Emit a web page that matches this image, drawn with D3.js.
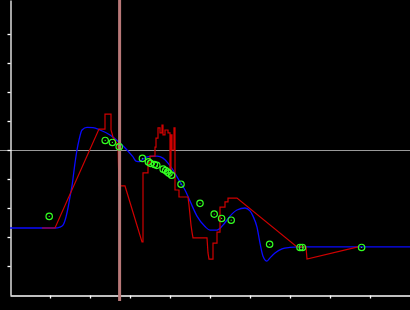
<!DOCTYPE html>
<html>
<head>
<meta charset="utf-8">
<script src="https://cdn.jsdelivr.net/npm/d3@7"></script>
<style>
  html, body { margin: 0; padding: 0; background: #000; }
  svg { display: block; }
</style>
</head>
<body>
<div id="chart"></div>
<script>
const W = 410, H = 310;

// observed series (red, stepped)
const obsX = [8, 11.25, 22.25, 23.75, 23.75, 25.25, 25.25, 25.75, 27, 27.25, 28.75, 33, 33.25, 33.25, 34.5, 34.5, 35, 35, 36.25, 36.25, 36.5, 36.5, 37, 37, 37.5, 37.5, 38, 38, 38.25, 38.25, 38.75, 38.75, 39.5, 39.5, 40, 40, 40.25, 40.25, 40.5, 40.5, 41, 41, 41.25, 41.25, 42.25, 42.25, 44.5, 44.75, 45, 45.25, 45.5, 45.75, 49.25, 49.5, 49.75, 50.75, 50.75, 51.75, 51.75, 52.5, 52.5, 53.75, 53.75, 54.5, 54.5, 56.75, 71.75, 74, 74.25, 87];
const obsY = [23.1, 23.1, 57.2, 57.2, 62.4, 62.4, 56.9, 54.5, 51.7, 37.6, 37.6, 18.3, 18.3, 42.1, 42.1, 45.5, 45.5, 47.9, 47.9, 51.0, 51.0, 54.1, 54.1, 57.6, 57.6, 55.9, 55.9, 58.6, 58.6, 55.2, 55.2, 56.9, 56.9, 55.9, 55.9, 43.1, 43.1, 55.2, 55.2, 50, 50, 57.6, 57.6, 36.2, 36.2, 33.8, 33.8, 31.0, 27.6, 24.1, 21.7, 19.7, 19.7, 14.5, 12.4, 12.4, 17.9, 17.9, 21.7, 21.7, 30.3, 30.3, 32.1, 32.1, 33.4, 33.4, 16.6, 16.6, 12.4, 16.6];

// smoothed fit (blue)
const fitX = [0, 11.25, 12.5, 13.25, 14, 14.5, 15, 15.5, 16.25, 16.75, 17.25, 18, 19.25, 20.75, 22.5, 25, 27.5, 29.25, 30.75, 31.5, 32.5, 33.25, 35, 36.75, 38.25, 39.5, 40.75, 42.5, 43.75, 45, 46.75, 48.75, 50, 51.75, 53.25, 55, 56.75, 58.75, 60, 60.75, 61.75, 62.5, 63.25, 64.25, 65, 66.25, 68, 70, 72, 100];
const fitY = [23.1, 23.1, 23.4, 24.1, 26.9, 30.0, 33.8, 37.6, 45.5, 50, 53.4, 56.9, 57.8, 57.7, 56.9, 55.2, 52.4, 50, 47.6, 46.2, 46.0, 46.9, 47.8, 47.9, 47.2, 45.5, 43.1, 39.0, 36.2, 32.4, 27.2, 23.6, 22.4, 22.4, 24.1, 27.2, 29.3, 30.0, 29.0, 27.2, 23.4, 17.9, 13.4, 11.7, 12.8, 14.5, 15.9, 16.4, 16.6, 16.6];

// sample points (green)
const ptX = [9.8, 23.8, 25.6, 27.3, 33.1, 34.6, 35.1, 36.1, 36.7, 38.3, 38.9, 39.4, 39.75, 40.4, 42.75, 47.5, 51.05, 52.9, 55.3, 64.9, 72.5, 73.1, 87.9];
const ptY = [27.1, 53.3, 52.6, 51.1, 47.1, 45.9, 45.4, 45.0, 44.7, 43.4, 42.9, 42.4, 42.0, 41.3, 38.2, 31.6, 27.9, 26.4, 25.8, 17.5, 16.4, 16.4, 16.4];

const xTicks = [10, 20, 30, 40, 50, 60, 70, 80, 90];
const yTicks = [10, 20, 30, 40, 50, 60, 70, 80, 90];
const cursorX = 27.4;
const cursorY = 50;

const svg = d3.select("#chart").append("svg").attr("width", W).attr("height", H);

const x = d3.scaleLinear().domain([0, 100]).range([10, 410]);
const y = d3.scaleLinear().domain([0, 295 / 2.9]).range([295, 0]);

// horizontal reference line
svg.append("line")
  .attr("x1", 0).attr("x2", W)
  .attr("y1", Math.round(y(cursorY)) + 0.5).attr("y2", Math.round(y(cursorY)) + 0.5)
  .attr("stroke", "#9a9a9a").attr("stroke-width", 1);

// axes
svg.append("g").attr("transform", "translate(0,295.5)")
  .call(d3.axisBottom(x).tickValues(xTicks).tickSize(3).tickSizeOuter(0).tickFormat(""));
svg.append("g").attr("transform", "translate(10.5,0)")
  .call(d3.axisLeft(y).tickValues(yTicks).tickSize(3).tickSizeOuter(0).tickFormat(""));
svg.selectAll(".domain, .tick line").attr("stroke", "#fff").attr("stroke-width", 1.3);

// fit
const fitLine = d3.line().x((d) => x(d[0])).y((d) => y(d[1])).curve(d3.curveMonotoneX);
svg.append("path")
  .attr("d", fitLine(d3.zip(fitX, fitY)))
  .attr("fill", "none").attr("stroke", "#0a0aff").attr("stroke-width", 1.3);

// observed
const obsLine = d3.line().x((d) => x(d[0])).y((d) => y(d[1]));
svg.append("path")
  .attr("d", obsLine(d3.zip(obsX, obsY)))
  .attr("fill", "none").attr("stroke", "#d00000").attr("stroke-width", 1.2);

// vertical cursor
svg.append("line")
  .attr("x1", x(cursorX)).attr("x2", x(cursorX))
  .attr("y1", 0).attr("y2", 301)
  .attr("stroke", "#b87878").attr("stroke-width", 3);

// points
const pts = svg.append("g").selectAll("g").data(d3.zip(ptX, ptY)).enter().append("g")
  .attr("transform", (d) => `translate(${x(d[0])},${y(d[1])})`);
pts.append("circle").attr("r", 3.2).attr("fill", "none").attr("stroke", "#33ff22").attr("stroke-width", 1.2);
pts.append("circle").attr("r", 0.6).attr("fill", "#33ff22");
</script>
</body>
</html>
